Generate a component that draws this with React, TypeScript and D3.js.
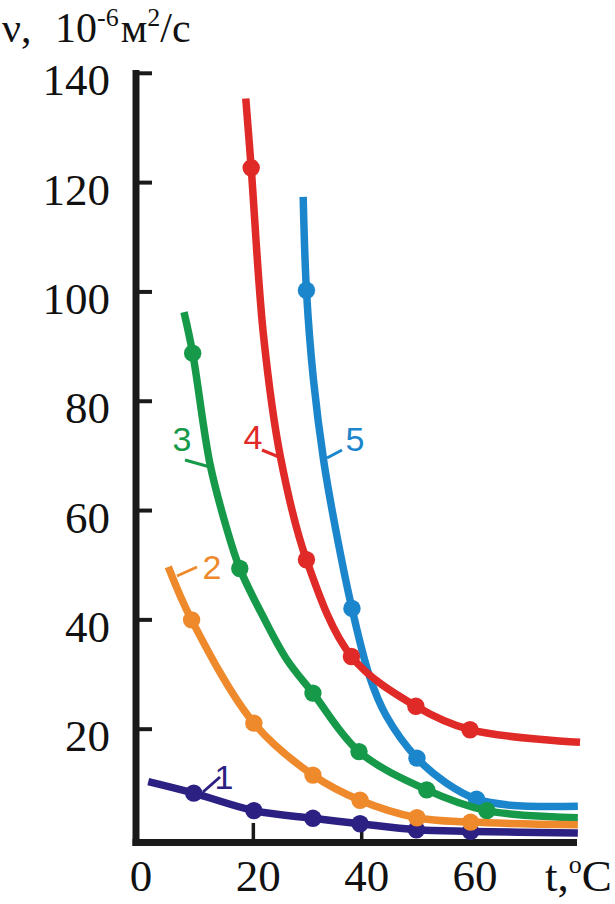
import React from "react";
import * as d3 from "d3";

// ---- data (t in °C, ν in 10^-6 m²/s) ----
const curveNames = ["1", "2", "3", "4", "5"];
const curveColors = ["#2c2182", "#ee8a2c", "#17994a", "#df2a27", "#1c86cc"];

// smooth line through these points
const path1: [number, number][] = [[0.6, 10.4], [9.0, 8.3], [20.1, 5.1], [31.0, 3.7], [39.7, 2.7], [50.1, 1.6], [60.1, 1.3], [79.9, 1.0]];
const path2: [number, number][] = [[4.3, 49.7], [8.6, 40.0], [20.1, 21.1], [31.0, 11.6], [39.7, 7.0], [50.2, 3.8], [60.1, 3.0], [79.9, 2.5]];
const path3: [number, number][] = [[7.2, 96.3], [8.8, 88.8], [12.0, 68.5], [15.0, 57.0], [17.5, 49.4], [21.8, 40.6], [26.2, 32.7], [31.0, 26.6], [39.5, 15.9], [52.0, 8.9], [63.1, 5.1], [79.9, 3.8]];
const path4: [number, number][] = [[18.6, 135.4], [19.6, 122.7], [21.9, 91.8], [25.0, 69.8], [29.8, 51.0], [38.1, 33.3], [50.0, 24.2], [60.0, 19.9], [80.3, 17.6]];
const path5: [number, number][] = [[29.2, 117.4], [29.8, 100.3], [31.1, 83.9], [33.0, 69.0], [35.4, 55.5], [38.2, 42.1], [41.5, 29.5], [44.5, 22.5], [50.2, 14.7], [55.7, 10.1], [61.2, 7.2], [67.4, 6.1], [79.9, 5.9]];

// measured points (markers)
const marks1: [number, number][] = [[9.0, 8.3], [20.1, 5.1], [31.0, 3.7], [39.7, 2.7], [50.1, 1.6], [60.1, 1.3]];
const marks2: [number, number][] = [[8.6, 40.0], [20.1, 21.1], [31.0, 11.6], [39.7, 7.0], [50.2, 3.8], [60.1, 3.0]];
const marks3: [number, number][] = [[8.8, 88.8], [17.5, 49.4], [31.0, 26.6], [39.5, 15.9], [52.0, 8.9], [63.1, 5.1]];
const marks4: [number, number][] = [[19.6, 122.7], [29.8, 51.0], [38.1, 33.3], [50.0, 24.2], [60.0, 19.9]];
const marks5: [number, number][] = [[29.8, 100.3], [38.2, 42.1], [50.2, 14.7], [61.2, 7.2]];

const yTicks = [20, 40, 60, 80, 100, 120, 140];
const xTicks = [20, 40, 60];
const xTickLabels = [0, 20, 40, 60];

// ---- layout ----
const W = 615;
const H = 904;
const xScale = d3.scaleLinear().domain([0, 80]).range([145, 578.4]);
const yScale = d3.scaleLinear().domain([0, 140]).range([838.5, 73.3]);

const paths = [path1, path2, path3, path4, path5];
const marks = [marks1, marks2, marks3, marks4, marks5];
const drawOrder = [0, 4, 2, 1, 3];

// label leader lines & text positions (pixels)
const labelLayout = [
  { lx1: 203, ly1: 792, lx2: 220, ly2: 777, tx: 224, ty: 789 },
  { lx1: 177, ly1: 576, lx2: 197, ly2: 567, tx: 212, ty: 579 },
  { lx1: 185, ly1: 460, lx2: 210, ly2: 467, tx: 182, ty: 451 },
  { lx1: 262, ly1: 450, lx2: 279, ly2: 457, tx: 253, ty: 449 },
  { lx1: 327, ly1: 458, lx2: 342, ly2: 450, tx: 355, ty: 451 },
];

const serif = "'Liberation Serif', 'Times New Roman', serif";
const sans = "'Liberation Sans', Arial, sans-serif";

export default function App() {
  const line = d3
    .line<[number, number]>()
    .x((d) => xScale(d[0]))
    .y((d) => yScale(d[1]))
    .curve(d3.curveCatmullRom.alpha(0.5));

  const axisColor = "#1a1a1a";
  const axisX = 136;
  const axisY = 842.5;

  return (
    <svg
      width={W}
      height={H}
      viewBox={`0 0 ${W} ${H}`}
      style={{ position: "absolute", left: 0, top: 0, background: "#fff" }}
    >
      {/* title */}
      <text x={2} y={42} fontFamily={serif} fontSize={42} fill="#111">
        ν,
        <tspan x={55}>10</tspan>
        <tspan dy={-16} fontSize={26}>-6</tspan>
        <tspan dy={16} dx={2}>м</tspan>
        <tspan dy={-16} fontSize={26}>2</tspan>
        <tspan dy={16}>/с</tspan>
      </text>

      {/* y tick labels */}
      {yTicks.map((v) => (
        <text
          key={"yl" + v}
          x={110}
          y={yScale(v) + 22}
          textAnchor="end"
          fontFamily={serif}
          fontSize={45}
          fill="#111"
        >
          {v}
        </text>
      ))}

      {/* x tick labels */}
      {xTickLabels.map((v) => (
        <text
          key={"xl" + v}
          x={v === 0 ? 141 : xScale(v) + 5}
          y={891}
          textAnchor="middle"
          fontFamily={serif}
          fontSize={45}
          fill="#111"
        >
          {v}
        </text>
      ))}
      <text x={545} y={891} fontFamily={serif} fontSize={45} fill="#111">
        t,
        <tspan dy={-18} fontSize={26}>o</tspan>
        <tspan dy={18}>C</tspan>
      </text>

      {/* axes */}
      <line x1={axisX} y1={70} x2={axisX} y2={846} stroke={axisColor} strokeWidth={7} />
      <line x1={132.5} y1={axisY} x2={577} y2={axisY} stroke={axisColor} strokeWidth={7} />
      {yTicks.map((v) => (
        <line
          key={"yt" + v}
          x1={axisX}
          x2={152}
          y1={yScale(v)}
          y2={yScale(v)}
          stroke={axisColor}
          strokeWidth={4}
        />
      ))}
      {xTicks.map((v) => (
        <line
          key={"xt" + v}
          x1={xScale(v)}
          x2={xScale(v)}
          y1={axisY}
          y2={823}
          stroke={axisColor}
          strokeWidth={3.5}
        />
      ))}

      {/* curves */}
      {drawOrder.map((i) => (
        <g key={"c" + i}>
          <path
            d={line(paths[i]) || ""}
            fill="none"
            stroke={curveColors[i]}
            strokeWidth={7.5}
          />
          {marks[i].map((d, j) => (
            <circle
              key={j}
              cx={xScale(d[0])}
              cy={yScale(d[1])}
              r={8.7}
              fill={curveColors[i]}
            />
          ))}
        </g>
      ))}

      {/* curve labels */}
      {curveNames.map((name, i) => {
        const L = labelLayout[i];
        return (
          <g key={"lab" + i}>
            <line
              x1={L.lx1}
              y1={L.ly1}
              x2={L.lx2}
              y2={L.ly2}
              stroke={curveColors[i]}
              strokeWidth={3}
            />
            <text
              x={L.tx}
              y={L.ty}
              textAnchor="middle"
              fontFamily={sans}
              fontSize={34}
              fill={curveColors[i]}
            >
              {name}
            </text>
          </g>
        );
      })}
    </svg>
  );
}
